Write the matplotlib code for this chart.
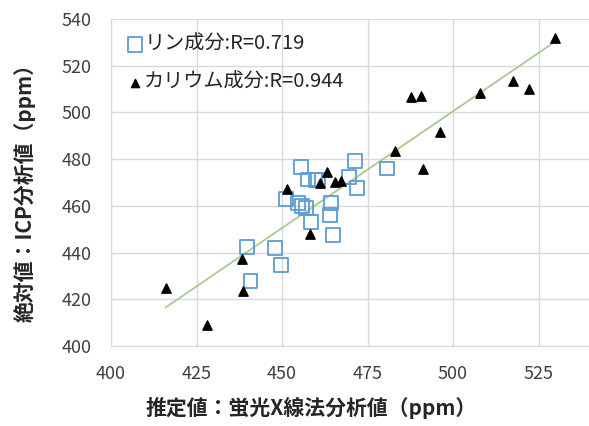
import matplotlib
matplotlib.use('Agg')
import matplotlib.pyplot as plt
import numpy as np

plt.rcParams['font.family'] = ['Noto Sans CJK JP', 'DejaVu Sans']

# ── データ ──────────────────────────
# リン成分 (蛍光X線推定値, ICP分析値)
p_est = [455.6, 457.5, 460.5, 471.3, 469.6, 471.9, 480.6, 451.2, 454.8, 455.8,
         457.0, 458.5, 464.3, 464.0, 464.8, 439.7, 447.9, 449.7, 440.8, 459.8]
p_icp = [476.5, 471.3, 471.0, 479.3, 472.5, 467.5, 476.0, 462.8, 461.1, 459.9,
         458.9, 453.2, 461.3, 456.1, 447.5, 442.5, 441.8, 434.6, 428.0, 471.2]

# カリウム成分
k_est = [416.0, 428.2, 438.4, 438.7, 451.5, 458.1, 463.2, 461.0, 465.6, 467.2,
         483.1, 487.7, 490.5, 496.3, 491.2, 507.9, 517.5, 522.1, 529.8]
k_icp = [424.7, 409.1, 437.2, 423.6, 467.1, 448.1, 474.5, 469.8, 470.1, 470.5,
         483.7, 506.7, 507.2, 491.7, 475.8, 508.2, 513.6, 510.0, 531.7]

labels = ['リン成分:R=0.719', 'カリウム成分:R=0.944']
x_ticks = [400, 425, 450, 475, 500, 525]
y_ticks = [400, 420, 440, 460, 480, 500, 520, 540]

fig = plt.figure(figsize=(5.89, 4.26), dpi=100)
ax = fig.add_axes([111/589, 1 - 346/426, 1 - 111/589, (346 - 19)/426])

ax.scatter(p_est, p_icp, marker='s', s=100, facecolors='none',
           edgecolors='#5B9BD5', linewidths=1.3, label=labels[0], zorder=3)
ax.scatter(k_est, k_icp, marker='^', s=45, color='black',
           label=labels[1], zorder=4)

# 近似直線 (カリウム)
coef = np.polyfit(k_est, k_icp, 1)
xs = np.array([min(k_est), max(k_est)])
ax.plot(xs, np.polyval(coef, xs), color='#A9C98F', lw=1.3, zorder=2)

ax.set_xlim(400, 400 + (589 - 111) / 85.5 * 25)
ax.set_ylim(400, 540)
ax.set_xticks(x_ticks)
ax.set_yticks(y_ticks)
ax.grid(True, color='#D9D9D9', lw=1)
ax.set_axisbelow(True)
ax.tick_params(length=0, labelsize=13, labelcolor='#404040', pad=14)
for s in ['top', 'right']:
    ax.spines[s].set_visible(False)
for s in ['left', 'bottom']:
    ax.spines[s].set_color('#D9D9D9')

leg = ax.legend(loc='upper left', bbox_to_anchor=(130/589, 1 - 34/426),
                bbox_transform=fig.transFigure, frameon=False,
                fontsize=14.5, handlelength=0.5, handletextpad=0.2,
                labelspacing=0.85, borderaxespad=0, borderpad=0)
for t in leg.get_texts():
    t.set_color('#262626')
leg.legend_handles[0].set_sizes([110])
leg.legend_handles[1].set_sizes([35])

fig.text(311/589, 1 - 408/426, '推定値：蛍光X線法分析値（ppm）',
         ha='center', va='center', fontsize=15, fontweight='bold', color='#262626')
fig.text(25/589, 1 - 188/426, '絶対値：ICP分析値（ppm）', rotation=90,
         ha='center', va='center', fontsize=15, fontweight='bold', color='#262626')

fig.savefig('out.png', dpi=100, facecolor='white')
